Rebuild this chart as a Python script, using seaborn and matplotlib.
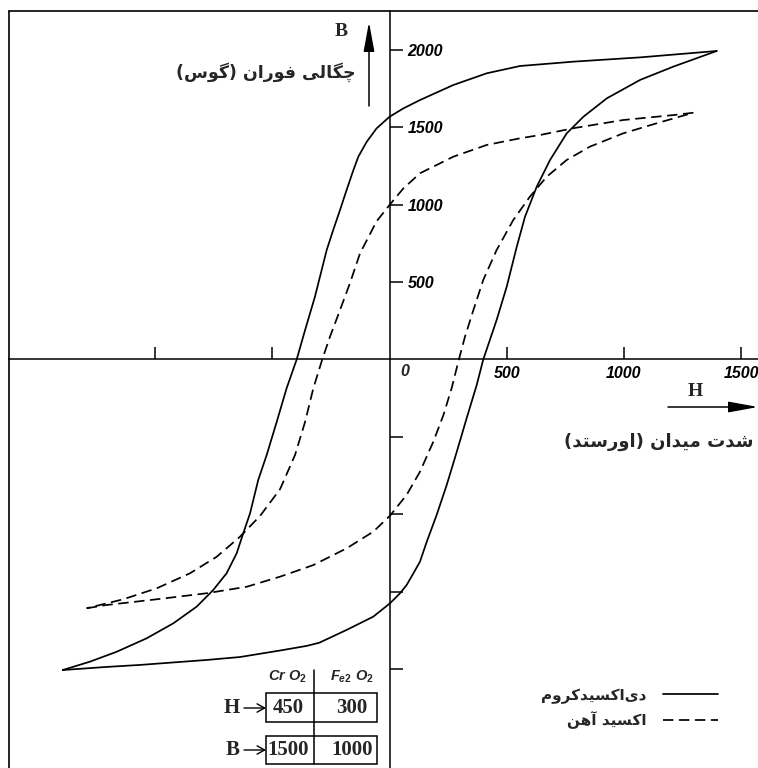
import matplotlib
matplotlib.use('Agg')
import numpy as np
import pandas as pd
import matplotlib.pyplot as plt
import seaborn as sns
from matplotlib.lines import Line2D
from matplotlib.patches import Rectangle

#-----------data (H in oersted, B in gauss)----------------------------------
# CrO2 loop (solid), upper branch: top tip -> bottom tip
cr_down = [(1396, 1993), (1072, 1952), (784, 1924), (557, 1896), (415, 1849), (272, 1773),
           (130, 1676), (59, 1622), (0, 1568), (-55, 1493), (-97, 1407), (-133, 1310),
           (-154, 1224), (-183, 1095), (-211, 966), (-240, 837), (-268, 707), (-318, 406),
           (-360, 191), (-396, 0), (-439, -186), (-481, -402), (-524, -617), (-560, -778),
           (-595, -994), (-624, -1123), (-652, -1252), (-695, -1381), (-752, -1489),
           (-823, -1597), (-922, -1704), (-1036, -1801), (-1164, -1888), (-1278, -1952),
           (-1394, -2006)]
# CrO2 loop, lower branch: bottom tip -> top tip
cr_up = [(-1394, -2006), (-1207, -1986), (-1064, -1973), (-922, -1957), (-780, -1941),
         (-638, -1922), (-467, -1880), (-353, -1850), (-300, -1830), (-183, -1747), (-69, -1661),
         (2, -1575), (45, -1510), (73, -1457), (102, -1381), (130, -1306), (159, -1177),
         (201, -1005), (244, -811), (287, -596), (329, -380), (372, -165), (400, 0), (457, 255),
         (500, 470), (543, 729), (578, 922), (628, 1116), (685, 1289), (756, 1461), (827, 1568),
         (927, 1687), (1069, 1806), (1211, 1892), (1396, 1993)]

# Fe2O3 loop (dashed)
fe_down = [(1296, 1594), (1211, 1579), (997, 1547), (784, 1494), (642, 1450), (557, 1429),
           (415, 1386), (272, 1310), (130, 1203), (59, 1105), (0, 998), (-55, 893),
           (-126, 685), (-169, 492), (-211, 320), (-254, 147), (-287, 0), (-325, -186),
           (-360, -402), (-403, -617), (-467, -838), (-552, -1010), (-638, -1145),
           (-737, -1274), (-851, -1381), (-993, -1478), (-1136, -1549), (-1292, -1607)]
fe_up = [(-1292, -1607), (-1207, -1586), (-993, -1549), (-780, -1510), (-609, -1468),
         (-467, -1403), (-325, -1328), (-183, -1220), (-69, -1112), (2, -1009), (73, -875),
         (130, -725), (187, -531), (230, -359), (265, -186), (296, 0), (322, 147), (358, 320),
         (400, 514), (457, 707), (528, 901), (599, 1052), (671, 1181), (756, 1289),
         (855, 1375), (997, 1461), (1140, 1526), (1296, 1594)]

x_ticks = [-1000, -500, 500, 1000, 1500]
y_ticks = [-2000, -1500, -1000, -500, 500, 1000, 1500, 2000]

names = ['دی\u200cاکسیدکروم', 'اکسید آهن']
y_title = 'چگالی فوران (گوس)'
x_title = 'شدت میدان (اورستد)'

table_cols = [r'$Cr\ O_2$', r'$F_{e2}\ O_2$']
table_rows = ['H', 'B']
table_H = [450, 300]
table_B = [1500, 1000]

#-----------simple persian shaping (mpl does no arabic layout)-------------
FORMS = {
    'ا': ('\uFE8D', '\uFE8E', None, None),
    'آ': ('\uFE81', '\uFE82', None, None),
    'د': ('\uFEA9', '\uFEAA', None, None),
    'ر': ('\uFEAD', '\uFEAE', None, None),
    'و': ('\uFEED', '\uFEEE', None, None),
    'ت': ('\uFE95', '\uFE96', '\uFE97', '\uFE98'),
    'س': ('\uFEB1', '\uFEB2', '\uFEB3', '\uFEB4'),
    'ش': ('\uFEB5', '\uFEB6', '\uFEB7', '\uFEB8'),
    'ف': ('\uFED1', '\uFED2', '\uFED3', '\uFED4'),
    'ل': ('\uFEDD', '\uFEDE', '\uFEDF', '\uFEE0'),
    'م': ('\uFEE1', '\uFEE2', '\uFEE3', '\uFEE4'),
    'ن': ('\uFEE5', '\uFEE6', '\uFEE7', '\uFEE8'),
    'ه': ('\uFEE9', '\uFEEA', '\uFEEB', '\uFEEC'),
    'ی': ('\uFBFC', '\uFBFD', '\uFBFE', '\uFBFF'),
    'ک': ('\uFB8E', '\uFB8F', '\uFB90', '\uFB91'),
    'گ': ('\uFB92', '\uFB93', '\uFB94', '\uFB95'),
    'چ': ('\uFB7A', '\uFB7B', '\uFB7C', '\uFB7D'),
}

def shape(s):
    out = []
    for i, c in enumerate(s):
        if c not in FORMS:
            out.append(c)
            continue
        prev = s[i - 1] if i > 0 else ''
        nxt = s[i + 1] if i + 1 < len(s) else ''
        jp = prev in FORMS and FORMS[prev][2] is not None
        jn = FORMS[c][2] is not None and nxt in FORMS
        iso, fin, ini, med = FORMS[c]
        out.append(med if (jp and jn) else fin if jp else ini if jn else iso)
    swap = {'(': ')', ')': '('}
    return ''.join(swap.get(c, c) for c in reversed(out) if c != '\u200c')

#-----------plot-------------
sns.set_style('white')
plt.rcParams['font.family'] = ['DejaVu Sans']
plt.rcParams['mathtext.fontset'] = 'custom'
plt.rcParams['mathtext.it'] = 'Liberation Sans:italic:bold'
plt.rcParams['mathtext.rm'] = 'Liberation Sans:bold'

W, HH = 758, 768
sx, x0 = 0.2344, 389.5   # px per oersted, px of H=0
sy, y0 = 0.1548, 359.5   # px per gauss, px of B=0

def fp(px, py):
    return (px / W, 1 - py / HH)

fig = plt.figure(figsize=(W / 100, HH / 100), dpi=100)
ax = fig.add_axes([0, 0, 1, 1])

solid = '-'
dashed = (0, (6, 3.2))
for branch, ls in [(cr_down, solid), (cr_up, solid), (fe_down, dashed), (fe_up, dashed)]:
    df = pd.DataFrame(branch, columns=['H', 'B'])
    sns.lineplot(data=df, x='H', y='B', sort=False, estimator=None, color='black',
                 linewidth=1.25, linestyle=ls, ax=ax)

ax.set_xlim(-x0 / sx, (W - x0) / sx)
ax.set_ylim((y0 - HH) / sy, y0 / sy)
ax.set_xlabel('')
ax.set_ylabel('')

ax.spines['left'].set_visible(False)
ax.spines['top'].set_visible(False)
ax.spines['right'].set_position(('data', 0))
ax.spines['bottom'].set_position(('data', 0))
ax.spines['right'].set_bounds((y0 - HH) / sy, (y0 - 10.7) / sy)
ax.spines['bottom'].set_bounds((9.3 - x0) / sx, (W - x0) / sx)
for sp in ['right', 'bottom']:
    ax.spines[sp].set_linewidth(1.1)
    ax.spines[sp].set_color('black')

ax.yaxis.set_ticks_position('right')
ax.xaxis.set_ticks_position('bottom')
ax.set_xticks(x_ticks)
ax.set_xticklabels([str(v) if v > 0 else '' for v in x_ticks])
ax.set_yticks(y_ticks)
ax.set_yticklabels([str(v) if v > 0 else '' for v in y_ticks])
ax.tick_params(axis='x', direction='in', length=9, width=1.1, pad=5, colors='black')
ax.tick_params(axis='y', direction='out', length=9.4, width=1.1, pad=3.5, colors='black')
tick_font = dict(family='Liberation Sans', style='italic', weight='bold', size=11.5)
plt.setp(ax.get_xticklabels() + ax.get_yticklabels(), **tick_font)
fig.text(*fp(405, 372), '0', ha='center', va='center', **tick_font)

# axis titles and arrows
arrow = dict(arrowstyle='-|>,head_length=1.8,head_width=0.33', lw=1.1, color='black',
             mutation_scale=10, shrinkA=0, shrinkB=0)
fig.text(*fp(341, 32), 'B', ha='center', va='center', family='Liberation Serif', weight='bold', size=14)
ax.annotate('', xy=fp(369, 22), xytext=fp(369, 106), xycoords='figure fraction', arrowprops=arrow)
fig.text(*fp(356, 72), shape(y_title), ha='right', va='center', family='DejaVu Sans', weight='bold', size=12.5)

fig.text(*fp(695, 392), 'H', ha='center', va='center', family='Liberation Serif', weight='bold', size=14)
ax.annotate('', xy=fp(758, 407), xytext=fp(668, 407), xycoords='figure fraction', arrowprops=arrow)
fig.text(*fp(754, 442), shape(x_title), ha='right', va='center', family='DejaVu Sans', weight='bold', size=13)

# legend, text on the left of the sample line
ax.legend(handles=[ax.lines[0], ax.lines[2]], labels=[shape(n) for n in names],
          loc='center right', bbox_to_anchor=fp(718, 708.5), bbox_transform=fig.transFigure,
          frameon=False, markerfirst=False, handlelength=3.6, handletextpad=1.05,
          borderpad=0, borderaxespad=0, labelspacing=0.5,
          prop=dict(family='DejaVu Sans', weight='bold', size=11))

# small table of coercivity / remanence
val_font = dict(family='Liberation Serif', weight='bold', size=15)
col_x = [288, 352]
small_arrow = dict(arrowstyle='->,head_length=0.45,head_width=0.25', lw=1.0, color='black',
                   mutation_scale=12, shrinkA=0, shrinkB=0)
for cx, lab in zip(col_x, table_cols):
    fig.text(*fp(cx, 677), lab, ha='center', va='center', size=10.5)
for ry, rlab, vals in zip([708, 750], table_rows, [table_H, table_B]):
    fig.text(*fp(240, ry), rlab, ha='right', va='center', **val_font)
    ax.annotate('', xy=fp(266, ry), xytext=fp(244, ry), xycoords='figure fraction',
                arrowprops=small_arrow)
    for cx, v in zip(col_x, vals):
        fig.text(*fp(cx, ry), str(v), ha='center', va='center', **val_font)
for top, bot in [(693, 722), (736, 764)]:
    fig.add_artist(Rectangle(fp(266, bot), 111 / W, (bot - top) / HH, transform=fig.transFigure,
                             fill=False, lw=1.1, color='black'))
fig.add_artist(Line2D([314 / W] * 2, [1 - 670 / HH, 1 - 764 / HH], transform=fig.transFigure,
                      lw=1.1, color='black'))

# outer frame (top and left edges visible)
fig.add_artist(Line2D([9.3 / W, 1], [1 - 10.7 / HH] * 2, transform=fig.transFigure, lw=1.2, color='black'))
fig.add_artist(Line2D([9.3 / W] * 2, [1 - 10.7 / HH, 0], transform=fig.transFigure, lw=1.2, color='black'))

fig.savefig('out.png', dpi=100)
